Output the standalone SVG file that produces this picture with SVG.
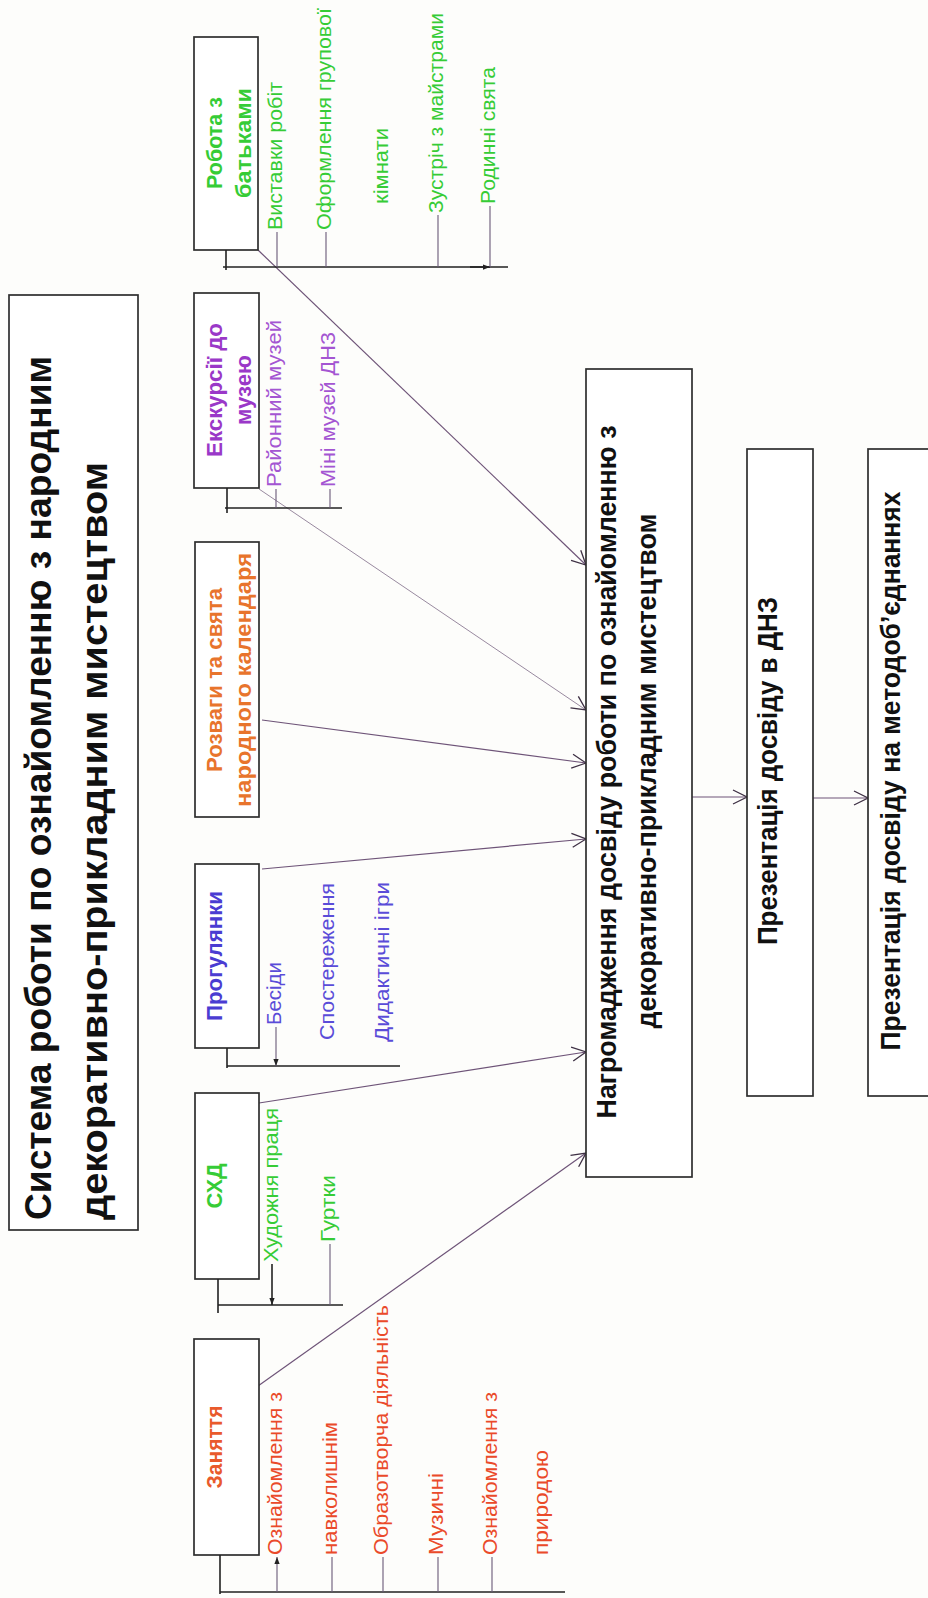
<svg xmlns="http://www.w3.org/2000/svg" width="928" height="1598" viewBox="0 0 928 1598">
<defs>
<marker id="arr" viewBox="0 0 16 16" refX="15" refY="8" markerWidth="16" markerHeight="16" markerUnits="userSpaceOnUse" orient="auto">
<path d="M1,1 L15,8 L1,15" fill="none" stroke="#3e3044" stroke-width="1.3"/>
</marker>
<marker id="sm" viewBox="0 0 8 8" refX="8" refY="4" markerWidth="7" markerHeight="7" markerUnits="userSpaceOnUse" orient="auto">
<path d="M0,1 L8,4 L0,7 Z" fill="#222"/>
</marker>
<style>
.box{fill:#fff;stroke:#2e2e2e;stroke-width:1.7}
.t{font-family:"Liberation Sans",Arial,sans-serif}
.hd{font-size:22px;font-weight:bold}
.lab{font-size:21px}
.big{font-size:28px;font-weight:bold;fill:#111}
.ttl{font-size:36px;font-weight:bold;fill:#111}
.br{stroke:#222;stroke-width:1.6;fill:none}
.tick{stroke:#6a5a78;stroke-width:1.1;fill:none}
.con{stroke:#6e5478;stroke-width:1.2;fill:none;marker-end:url(#arr)}
.con2{stroke:#8c7c94;stroke-width:0.9;fill:none;marker-end:url(#arr)}
.org{fill:#e95a2c}
.red{fill:#ea4a2a}
.grn{fill:#36cc36}
.blu{fill:#4a3cd2}
.blu2{fill:#5a4cd8}
.or2{fill:#e8742c}
.vio{fill:#9a38c8}
.vio2{fill:#a455d2}
</style>
</defs>
<rect x="0" y="0" width="928" height="1598" fill="#fdfdfb"/>

<g id="title">
<rect class="box" x="9" y="295" width="129" height="935"/>
<text class="t ttl" transform="translate(51,1220) rotate(-90)" textLength="864" lengthAdjust="spacingAndGlyphs">Система роботи  по ознайомленню з народним</text>
<text class="t ttl" transform="translate(107,1220) rotate(-90)" textLength="758" lengthAdjust="spacingAndGlyphs">декоративно-прикладним мистецтвом</text>
</g>

<g id="connectors">
<path class="con" d="M258,1386 L586,1153"/>
<path class="con" d="M259,1103 L586,1052"/>
<path class="con" d="M262,869 L586,839"/>
<path class="con" d="M262,720 L586,763"/>
<path class="con2" d="M259,489 L586,710"/>
<path class="con" d="M258,250 L586,565"/>
<path class="con" d="M692,797 L747,797"/>
<path class="con" d="M813,798 L868,798"/>
</g>

<g id="zanyattia">
<rect class="box" x="194" y="1339" width="65" height="216"/>
<text class="t hd org" text-anchor="middle" transform="translate(222,1447) rotate(-90)" textLength="83" lengthAdjust="spacingAndGlyphs">Заняття</text>
<path class="br" d="M220,1555 V1594 M220,1592 H565"/>
<path class="tick" d="M332,1592 V1557 M383,1592 V1557 M438,1592 V1557 M492,1592 V1557"/>
<path class="tick" d="M277,1592 V1557" marker-end="url(#sm)"/>
<text class="t lab red" transform="translate(282,1555) rotate(-90)" textLength="163" lengthAdjust="spacingAndGlyphs">Ознайомлення з</text>
<text class="t lab red" transform="translate(337,1555) rotate(-90)" textLength="133" lengthAdjust="spacingAndGlyphs">навколишнім</text>
<text class="t lab red" transform="translate(388,1555) rotate(-90)" textLength="250" lengthAdjust="spacingAndGlyphs">Образотворча діяльність</text>
<text class="t lab red" transform="translate(443,1555) rotate(-90)" textLength="82" lengthAdjust="spacingAndGlyphs">Музичні</text>
<text class="t lab red" transform="translate(497,1555) rotate(-90)" textLength="163" lengthAdjust="spacingAndGlyphs">Ознайомлення з</text>
<text class="t lab red" transform="translate(548,1555) rotate(-90)" textLength="105" lengthAdjust="spacingAndGlyphs">природою</text>
</g>

<g id="skhd">
<rect class="box" x="195" y="1093" width="64" height="186"/>
<text class="t hd grn" text-anchor="middle" transform="translate(222,1186) rotate(-90)" textLength="45" lengthAdjust="spacingAndGlyphs">СХД</text>
<path class="br" d="M218,1279 V1313 M218,1305 H343"/>
<path class="tick" d="M330,1305 V1244"/>
<path class="br" d="M272,1264 V1305" marker-end="url(#sm)"/>
<text class="t lab grn" transform="translate(278,1262) rotate(-90)" textLength="154" lengthAdjust="spacingAndGlyphs">Художня праця</text>
<text class="t lab grn" transform="translate(335,1242) rotate(-90)" textLength="67" lengthAdjust="spacingAndGlyphs">Гуртки</text>
</g>

<g id="progulianky">
<rect class="box" x="195" y="864" width="64" height="184"/>
<text class="t hd blu" text-anchor="middle" transform="translate(222,956) rotate(-90)" textLength="130" lengthAdjust="spacingAndGlyphs">Прогулянки</text>
<path class="br" d="M227,1048 V1068 M227,1066 H400"/>
<path class="tick" d="M276,1027 V1066" marker-end="url(#sm)"/>
<text class="t lab blu2" transform="translate(281,1025) rotate(-90)" textLength="63" lengthAdjust="spacingAndGlyphs">Бесіди</text>
<text class="t lab blu2" transform="translate(334,1040) rotate(-90)" textLength="157" lengthAdjust="spacingAndGlyphs">Спостереження</text>
<text class="t lab blu2" transform="translate(389,1042) rotate(-90)" textLength="160" lengthAdjust="spacingAndGlyphs">Дидактичні ігри</text>
</g>

<g id="rozvagy">
<rect class="box" x="195" y="542" width="64" height="275"/>
<text class="t hd or2" text-anchor="middle" transform="translate(222,680) rotate(-90)" textLength="184" lengthAdjust="spacingAndGlyphs">Розваги та свята</text>
<text class="t hd or2" text-anchor="middle" transform="translate(251,680) rotate(-90)" textLength="254" lengthAdjust="spacingAndGlyphs">народного календаря</text>
</g>

<g id="ekskursii">
<rect class="box" x="194" y="293" width="65" height="195"/>
<text class="t hd vio" text-anchor="middle" transform="translate(222,390) rotate(-90)" textLength="134" lengthAdjust="spacingAndGlyphs">Екскурсії до</text>
<text class="t hd vio" text-anchor="middle" transform="translate(251,390) rotate(-90)" textLength="70" lengthAdjust="spacingAndGlyphs">музею</text>
<path class="br" d="M227,488 V513 M225,508 H342"/>
<path class="tick" d="M276,508 V489 M330,508 V489"/>
<text class="t lab vio2" transform="translate(281,487) rotate(-90)" textLength="167" lengthAdjust="spacingAndGlyphs">Районний музей</text>
<text class="t lab vio2" transform="translate(335,487) rotate(-90)" textLength="155" lengthAdjust="spacingAndGlyphs">Міні музей ДНЗ</text>
</g>

<g id="robota">
<rect class="box" x="194" y="37" width="64" height="213"/>
<text class="t hd grn" text-anchor="middle" transform="translate(222,143) rotate(-90)" textLength="92" lengthAdjust="spacingAndGlyphs">Робота з</text>
<text class="t hd grn" text-anchor="middle" transform="translate(251,143) rotate(-90)" textLength="110" lengthAdjust="spacingAndGlyphs">батьками</text>
<path class="br" d="M226,250 V270 M223,267 H508"/>
<path class="br" d="M470,267 H490" marker-end="url(#sm)"/>
<path class="tick" d="M277,267 V232 M326,267 V232 M438,267 V215 M490,267 V206"/>
<text class="t lab grn" transform="translate(282,230) rotate(-90)" textLength="148" lengthAdjust="spacingAndGlyphs">Виставки робіт</text>
<text class="t lab grn" transform="translate(331,230) rotate(-90)" textLength="222" lengthAdjust="spacingAndGlyphs">Оформлення групової</text>
<text class="t lab grn" transform="translate(388,204) rotate(-90)" textLength="76" lengthAdjust="spacingAndGlyphs">кімнати</text>
<text class="t lab grn" transform="translate(443,213) rotate(-90)" textLength="200" lengthAdjust="spacingAndGlyphs">Зустріч з майстрами</text>
<text class="t lab grn" transform="translate(495,204) rotate(-90)" textLength="137" lengthAdjust="spacingAndGlyphs">Родинні свята</text>
</g>

<g id="nagromadzhennia">
<rect class="box" x="586" y="369" width="106" height="808"/>
<text class="t big" text-anchor="middle" transform="translate(616,772) rotate(-90)" textLength="693" lengthAdjust="spacingAndGlyphs">Нагромадження досвіду роботи по ознайомленню з</text>
<text class="t big" text-anchor="middle" transform="translate(656,771) rotate(-90)" textLength="515" lengthAdjust="spacingAndGlyphs">декоративно-прикладним мистецтвом</text>
</g>

<g id="prezentatsiia-dnz">
<rect class="box" x="747" y="449" width="66" height="647"/>
<text class="t big" text-anchor="middle" transform="translate(777,771) rotate(-90)" textLength="348" lengthAdjust="spacingAndGlyphs">Презентація досвіду в ДНЗ</text>
</g>

<g id="prezentatsiia-metod">
<rect class="box" x="868" y="449" width="80" height="647"/>
<text class="t big" text-anchor="middle" transform="translate(900,771) rotate(-90)" textLength="559" lengthAdjust="spacingAndGlyphs">Презентація досвіду на методоб’єднаннях</text>
</g>
</svg>
